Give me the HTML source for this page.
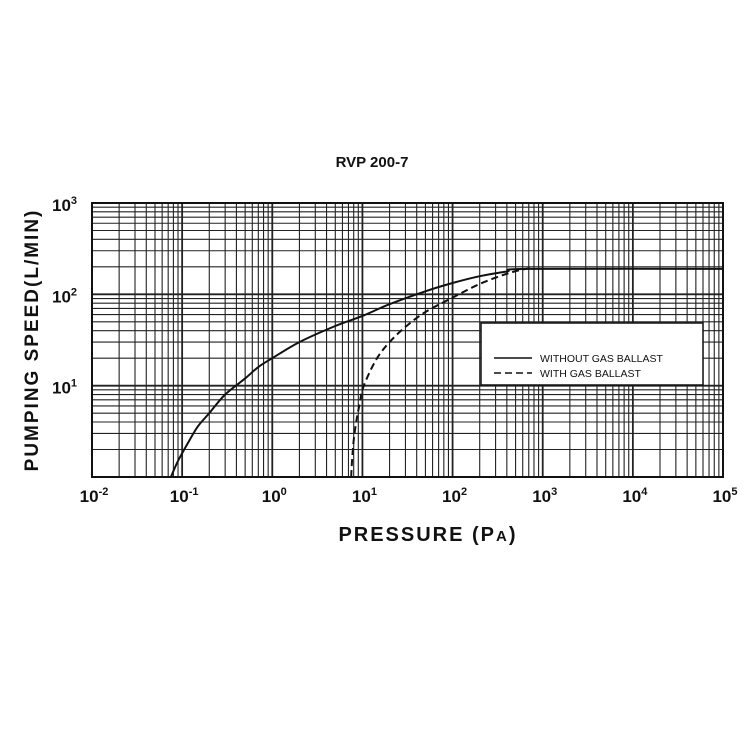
<!DOCTYPE html>
<html><head><meta charset="utf-8"><style>
body{margin:0;background:#fff}
svg text{font-family:"Liberation Sans",sans-serif;fill:#111}
</style></head><body>
<svg width="750" height="750">
<rect width="750" height="750" fill="#fff"/>
<text x="372" y="167" text-anchor="middle" font-size="15" font-weight="bold">RVP 200-7</text>
<g id="grid"></g>
<g id="series"></g>
<g id="axes"></g>
<rect x="481" y="323" width="222" height="62" fill="#fff" stroke="#111" stroke-width="1.5"/>
<line x1="494" y1="358" x2="532" y2="358" stroke="#111" stroke-width="1.5"/>
<text x="540" y="362" font-size="10.5">WITHOUT GAS BALLAST</text>
<line x1="494" y1="373" x2="532" y2="373" stroke="#111" stroke-width="1.5" stroke-dasharray="7,4"/>
<text x="540" y="377" font-size="10.5">WITH  GAS  BALLAST</text>
<text x="428" y="541" text-anchor="middle" font-size="20" font-weight="bold" letter-spacing="2">PRESSURE (P<tspan font-size="15">A</tspan>)</text>
<text transform="translate(38,340) rotate(-90)" text-anchor="middle" font-size="19" font-weight="bold" letter-spacing="2">PUMPING SPEED(L/MIN)</text>
</svg>
<script>
const xDecades=[-2,-1,0,1,2,3,4,5];
const yDecades=[0,1,2,3];
const solidP=[0.075,0.09,0.12,0.15,0.2,0.3,0.5,0.7,1,2,5,10,20,50,100,200,400,700,100000];
const solidS=[1,1.5,2.5,3.6,5,8,12,16,20,30,45,58,78,108,133,158,178,190,190];
const dashP=[7.5,7.6,7.8,8.1,8.6,9.3,10,12,15,20,30,50,100,200,400,650,800];
const dashS=[1,1.3,1.9,2.8,4.2,6.3,9,14,21,30,44,64,92,130,168,190,190];
const L=92,R=723,T=203,B=477;
const X=v=>L+(Math.log10(v)+2)/7*(R-L);
const Y=v=>B-Math.log10(v)/3*(B-T);
const NS="http://www.w3.org/2000/svg";
function mk(t,a,p){const e=document.createElementNS(NS,t);for(const k in a)e.setAttribute(k,a[k]);p.appendChild(e);return e;}
const g=document.getElementById('grid'),s=document.getElementById('series'),ax=document.getElementById('axes');
for(let d=-2;d<5;d++)for(let m=1;m<10;m++){const x=X(m*Math.pow(10,d));
 const l=mk('line',{x1:x,x2:x,y1:T,y2:B,stroke:'#222','stroke-width':m==1?1.8:1.1},g);
 
 }
for(let d=0;d<3;d++)for(let m=1;m<10;m++){const y=Y(m*Math.pow(10,d));
 const l=mk('line',{x1:L,x2:R,y1:y,y2:y,stroke:'#222','stroke-width':m==1?1.8:1.1},g);
 
 }
const fr=mk('rect',{x:L,y:T,width:R-L,height:B-T,fill:'none',stroke:'#111','stroke-width':2},ax);


function path(P,S,dash,name){
 const pts=P.map((p,i)=>[X(p),Y(S[i])]);
 let d='M'+pts[0][0].toFixed(1)+','+pts[0][1].toFixed(1);
 for(let i=0;i<pts.length-1;i++){const p0=pts[Math.max(0,i-1)],p1=pts[i],p2=pts[i+1],p3=pts[Math.min(pts.length-1,i+2)];
  const c1=[p1[0]+(p2[0]-p0[0])/6,p1[1]+(p2[1]-p0[1])/6],c2=[p2[0]-(p3[0]-p1[0])/6,p2[1]-(p3[1]-p1[1])/6];
  d+='C'+c1.join(',')+' '+c2.join(',')+' '+p2.join(',');}
 const e=mk('path',{d:d,fill:'none',stroke:'#111','stroke-width':2,'stroke-linejoin':'round'},s);
 if(dash)e.setAttribute('stroke-dasharray','7,4');
 
 }
path(solidP,solidS,false,'without-gas-ballast-line');
path(dashP,dashS,true,'with-gas-ballast-line');
xDecades.forEach(d=>{const t=mk('text',{x:X(Math.pow(10,d))+2,y:502,'text-anchor':'middle','font-size':17,'font-weight':'bold'},ax);
 t.textContent='10';const sp=mk('tspan',{dy:-7,'font-size':11},t);sp.textContent=d;
 
 });
yDecades.slice(1).forEach(d=>{const t=mk('text',{x:52,y:Y(Math.pow(10,d))+8,'font-size':17,'font-weight':'bold'},ax);
 t.textContent='10';const sp=mk('tspan',{dy:-7,'font-size':11},t);sp.textContent=d;
 
 });
</script>
</body></html>
